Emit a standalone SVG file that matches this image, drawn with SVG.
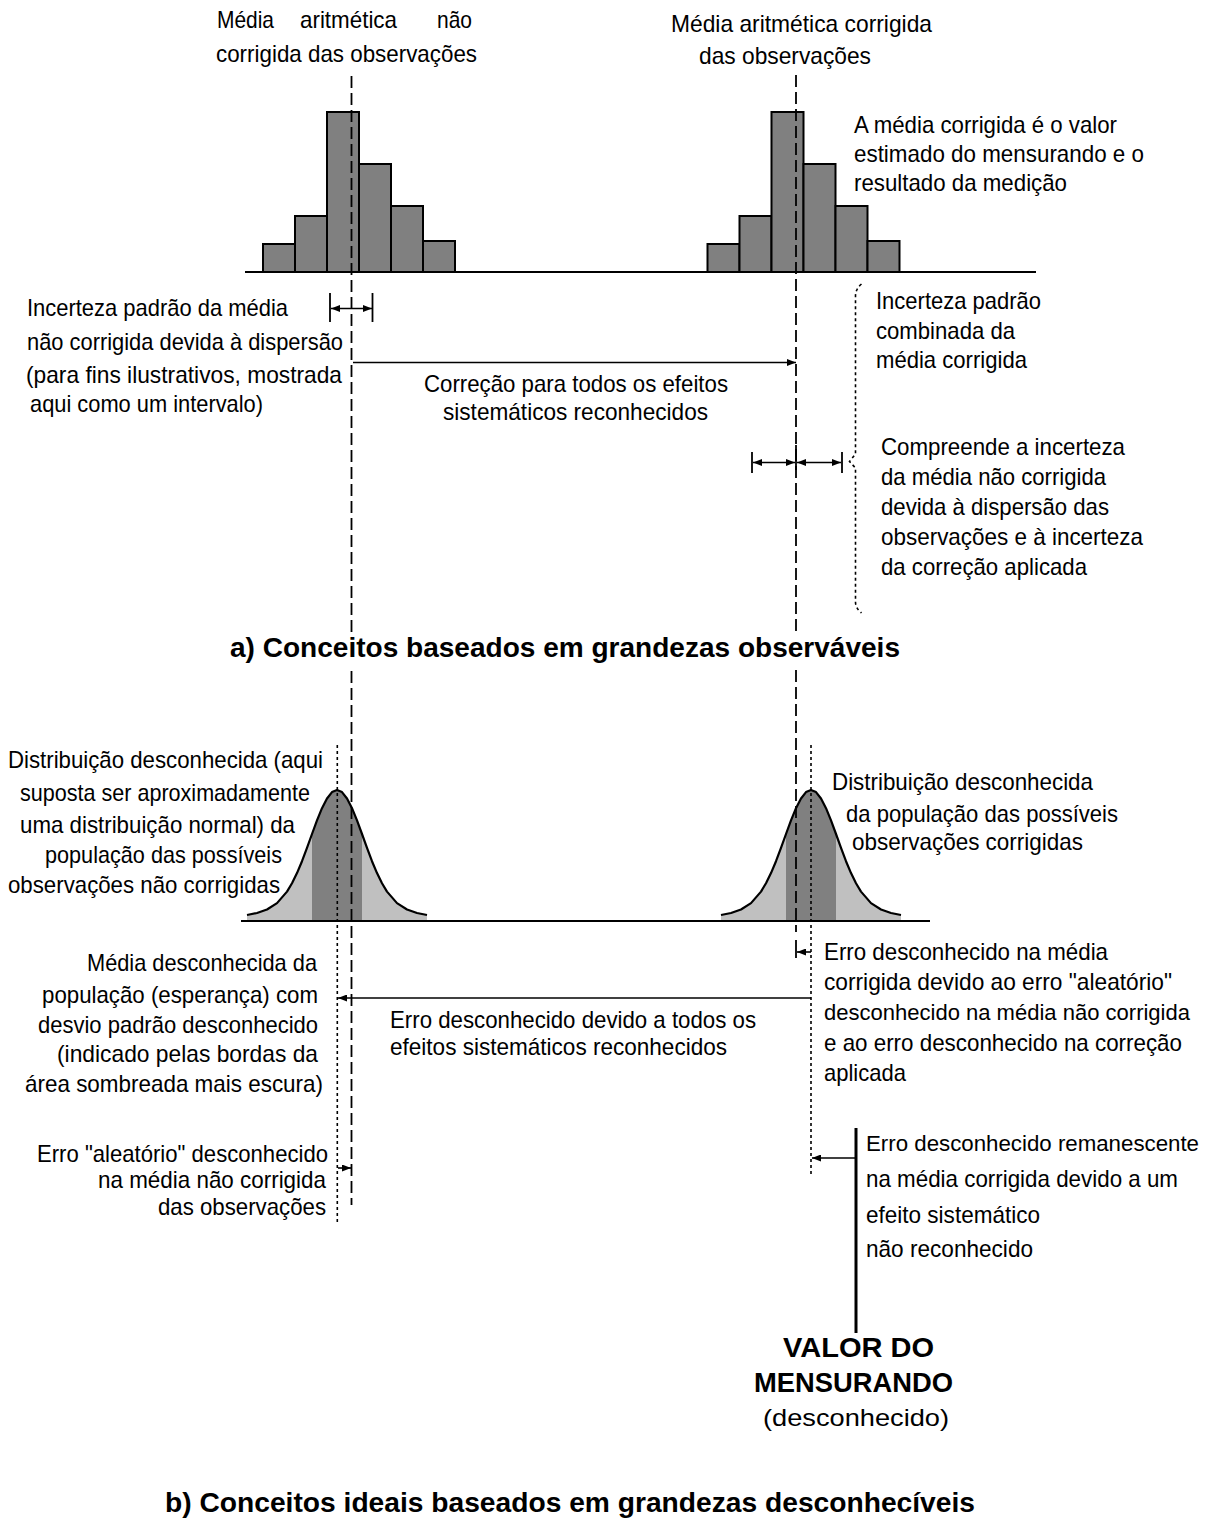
<svg xmlns="http://www.w3.org/2000/svg" width="1213" height="1519" viewBox="0 0 1213 1519">
<style>
text{font-family:"Liberation Sans",Arial,sans-serif;font-size:24px;fill:#000}
.b{font-weight:bold;font-size:28px}
.s{font-size:22px}
.bar{fill:#808080;stroke:#000;stroke-width:2}
.ax{stroke:#000;stroke-width:2;fill:none}
.dash{stroke:#000;stroke-width:1.8;stroke-dasharray:12 5;fill:none}
.dot{stroke:#000;stroke-width:1.6;stroke-dasharray:3 3;fill:none}
.ln{stroke:#000;stroke-width:1.6;fill:none}
.tk{stroke:#000;stroke-width:1.8;fill:none}
</style>
<defs>
<marker id="ah" viewBox="0 0 9 7" refX="9" refY="3.5" markerWidth="9" markerHeight="7" markerUnits="userSpaceOnUse" orient="auto-start-reverse"><path d="M0,0 L9,3.5 L0,7 z" fill="#000"/></marker>
<path id="bellfill" d="M-90,0 L-90,-6 L-80,-8 L-70,-11.5 L-60,-17.9 L-50,-29.4 L-45,-37.8 L-40,-47.9 L-35,-59.8 L-30,-73.1 L-25,-87 L-20,-100.6 L-15,-112.8 L-10,-122.5 L-5,-128.9 L0,-131 L5,-128.9 L10,-122.5 L15,-112.8 L20,-100.6 L25,-87 L30,-73.1 L35,-59.8 L40,-47.9 L45,-37.8 L50,-29.4 L60,-17.9 L70,-11.5 L80,-8 L90,-6 L90,0 Z"/>
<path id="bellline" d="M-90,-6 L-80,-8 L-70,-11.5 L-60,-17.9 L-50,-29.4 L-45,-37.8 L-40,-47.9 L-35,-59.8 L-30,-73.1 L-25,-87 L-20,-100.6 L-15,-112.8 L-10,-122.5 L-5,-128.9 L0,-131 L5,-128.9 L10,-122.5 L15,-112.8 L20,-100.6 L25,-87 L30,-73.1 L35,-59.8 L40,-47.9 L45,-37.8 L50,-29.4 L60,-17.9 L70,-11.5 L80,-8 L90,-6"/>
<clipPath id="bc"><use href="#bellfill"/></clipPath>
<g id="bell">
<use href="#bellfill" fill="#c0c0c0"/>
<rect x="-25" y="-140" width="50" height="140" fill="#808080" clip-path="url(#bc)"/>
<use href="#bellline" fill="none" stroke="#000" stroke-width="2.2" stroke-linejoin="round"/>
</g>
</defs>

<g id="hist-left">
<rect class="bar" x="263" y="244" width="32" height="28"/>
<rect class="bar" x="295" y="216" width="32" height="56"/>
<rect class="bar" x="327" y="112" width="32" height="160"/>
<rect class="bar" x="359" y="164" width="32" height="108"/>
<rect class="bar" x="391" y="206" width="32" height="66"/>
<rect class="bar" x="423" y="241" width="32" height="31"/>
</g>
<g id="hist-right">
<rect class="bar" x="707.5" y="244" width="32" height="28"/>
<rect class="bar" x="739.5" y="216" width="32" height="56"/>
<rect class="bar" x="771.5" y="112" width="32" height="160"/>
<rect class="bar" x="803.5" y="164" width="32" height="108"/>
<rect class="bar" x="835.5" y="206" width="32" height="66"/>
<rect class="bar" x="867.5" y="241" width="32" height="31"/>
</g>
<g id="axis-top"><line class="ax" x1="245" y1="272" x2="1036" y2="272"/></g>

<g id="bell-left"><use href="#bell" transform="translate(337,921)"/></g>
<g id="bell-right"><use href="#bell" transform="translate(811,921)"/></g>
<g id="axis-bottom"><line class="ax" x1="241" y1="921" x2="930" y2="921"/></g>

<g id="connectors">
<line class="dash" x1="351.5" y1="76" x2="351.5" y2="1205"/>
<line class="dash" x1="796" y1="75" x2="796" y2="932"/>
<line class="tk" x1="796" y1="940" x2="796" y2="958"/>
<line class="dot" x1="337.3" y1="745" x2="337.3" y2="1222"/>
<line class="dot" x1="811" y1="745" x2="811" y2="1177"/>

<line class="ln" x1="331" y1="308.5" x2="372" y2="308.5" marker-start="url(#ah)" marker-end="url(#ah)"/>
<line class="tk" x1="330" y1="293" x2="330" y2="322"/>
<line class="tk" x1="372.5" y1="293" x2="372.5" y2="322"/>

<line class="ln" x1="353" y1="362.5" x2="796" y2="362.5" marker-end="url(#ah)"/>

<line class="ln" x1="753" y1="462.5" x2="795" y2="462.5" marker-start="url(#ah)" marker-end="url(#ah)"/>
<line class="ln" x1="797" y1="462.5" x2="841" y2="462.5" marker-start="url(#ah)" marker-end="url(#ah)"/>
<line class="tk" x1="752" y1="452" x2="752" y2="473"/>
<line class="tk" x1="842" y1="452" x2="842" y2="473"/>
<line class="tk" x1="796" y1="445" x2="796" y2="470"/>

<path class="dot" d="M861.5,284 Q855.5,289 855.5,296 L855.5,454 L849.5,461.5 L855.5,468 L855.5,602 Q855.5,608 861.5,613"/>

<line class="ln" x1="811" y1="998" x2="338" y2="998" marker-end="url(#ah)"/>
<line class="ln" x1="338" y1="1168" x2="351" y2="1168" marker-end="url(#ah)"/>
<line class="ln" x1="811" y1="952" x2="797" y2="952" marker-end="url(#ah)"/>
<line class="ln" x1="856" y1="1158" x2="812" y2="1158" marker-end="url(#ah)"/>
<line stroke="#000" stroke-width="3" x1="856" y1="1128" x2="856" y2="1333"/>
</g>

<g id="labels">
<text x="217" y="28" textLength="57" lengthAdjust="spacingAndGlyphs">Média</text>
<text x="300" y="28" textLength="97" lengthAdjust="spacingAndGlyphs">aritmética</text>
<text x="437" y="28" textLength="35" lengthAdjust="spacingAndGlyphs">não</text>
<text x="216" y="62" textLength="261" lengthAdjust="spacingAndGlyphs">corrigida das observações</text>

<text x="671" y="32" textLength="261" lengthAdjust="spacingAndGlyphs">Média  aritmética  corrigida</text>
<text x="699" y="64" textLength="172" lengthAdjust="spacingAndGlyphs">das observações</text>

<text x="854" y="133" textLength="263" lengthAdjust="spacingAndGlyphs">A média corrigida é o valor</text>
<text x="854" y="162" textLength="290" lengthAdjust="spacingAndGlyphs">estimado do mensurando e o</text>
<text x="854" y="191" textLength="213" lengthAdjust="spacingAndGlyphs">resultado da medição</text>

<text x="876" y="309" textLength="165" lengthAdjust="spacingAndGlyphs">Incerteza padrão</text>
<text x="876" y="339" textLength="139" lengthAdjust="spacingAndGlyphs">combinada da</text>
<text x="876" y="368" textLength="151" lengthAdjust="spacingAndGlyphs">média corrigida</text>

<text x="881" y="455" textLength="244" lengthAdjust="spacingAndGlyphs">Compreende a incerteza</text>
<text x="881" y="485" textLength="225" lengthAdjust="spacingAndGlyphs">da média não corrigida</text>
<text x="881" y="515" textLength="228" lengthAdjust="spacingAndGlyphs">devida à dispersão das</text>
<text x="881" y="545" textLength="262" lengthAdjust="spacingAndGlyphs">observações e à incerteza</text>
<text x="881" y="575" textLength="206" lengthAdjust="spacingAndGlyphs">da correção aplicada</text>

<text x="27" y="316" textLength="261" lengthAdjust="spacingAndGlyphs">Incerteza padrão da média</text>
<text x="27" y="350" textLength="316" lengthAdjust="spacingAndGlyphs">não corrigida devida à dispersão</text>
<text x="26" y="383" textLength="316" lengthAdjust="spacingAndGlyphs">(para  fins ilustrativos, mostrada</text>
<text x="30" y="412" textLength="233" lengthAdjust="spacingAndGlyphs">aqui  como um intervalo)</text>

<text x="424" y="392" textLength="304" lengthAdjust="spacingAndGlyphs">Correção para todos os efeitos</text>
<text x="443" y="420" textLength="265" lengthAdjust="spacingAndGlyphs">sistemáticos reconhecidos</text>

<rect x="226" y="632" width="678" height="34" fill="#fff"/>
<text class="b" x="230" y="657" textLength="670" lengthAdjust="spacingAndGlyphs">a)  Conceitos baseados em grandezas observáveis</text>

<text x="8" y="768" textLength="315" lengthAdjust="spacingAndGlyphs">Distribuição desconhecida (aqui</text>
<text x="20" y="801" textLength="290" lengthAdjust="spacingAndGlyphs">suposta ser aproximadamente</text>
<text x="20" y="833" textLength="275" lengthAdjust="spacingAndGlyphs">uma distribuição normal) da</text>
<text x="45" y="863" textLength="237" lengthAdjust="spacingAndGlyphs">população das possíveis</text>
<text x="8" y="893" textLength="272" lengthAdjust="spacingAndGlyphs">observações não corrigidas</text>

<text x="832" y="790" textLength="261" lengthAdjust="spacingAndGlyphs">Distribuição desconhecida</text>
<text x="846" y="822" textLength="272" lengthAdjust="spacingAndGlyphs">da população das possíveis</text>
<text x="852" y="850" textLength="231" lengthAdjust="spacingAndGlyphs">observações corrigidas</text>

<text x="87" y="971" textLength="230" lengthAdjust="spacingAndGlyphs">Média desconhecida da</text>
<text x="42" y="1003" textLength="276" lengthAdjust="spacingAndGlyphs">população (esperança) com</text>
<text x="38" y="1033" textLength="280" lengthAdjust="spacingAndGlyphs">desvio padrão desconhecido</text>
<text x="57" y="1062" textLength="261" lengthAdjust="spacingAndGlyphs">(indicado pelas bordas da</text>
<text x="25" y="1092" textLength="298" lengthAdjust="spacingAndGlyphs">área sombreada mais escura)</text>

<text x="37" y="1162" textLength="291" lengthAdjust="spacingAndGlyphs">Erro "aleatório" desconhecido</text>
<text x="98" y="1188" textLength="228" lengthAdjust="spacingAndGlyphs">na média não  corrigida</text>
<text x="158" y="1215" textLength="168" lengthAdjust="spacingAndGlyphs">das observações</text>

<text x="390" y="1028" textLength="366" lengthAdjust="spacingAndGlyphs">Erro desconhecido devido a todos os</text>
<text x="390" y="1055" textLength="337" lengthAdjust="spacingAndGlyphs">efeitos sistemáticos reconhecidos</text>

<text x="824" y="960" textLength="284" lengthAdjust="spacingAndGlyphs">Erro desconhecido na média</text>
<text x="824" y="990" textLength="348" lengthAdjust="spacingAndGlyphs">corrigida devido ao erro "aleatório"</text>
<text class="s" x="824" y="1020" textLength="366" lengthAdjust="spacingAndGlyphs">desconhecido na média não corrigida</text>
<text x="824" y="1051" textLength="358" lengthAdjust="spacingAndGlyphs">e ao erro desconhecido na correção</text>
<text x="824" y="1081" textLength="82" lengthAdjust="spacingAndGlyphs">aplicada</text>

<text class="s" x="866" y="1151" textLength="333" lengthAdjust="spacingAndGlyphs">Erro desconhecido remanescente</text>
<text x="866" y="1187" textLength="312" lengthAdjust="spacingAndGlyphs">na média corrigida devido a um</text>
<text x="866" y="1223" textLength="174" lengthAdjust="spacingAndGlyphs">efeito sistemático</text>
<text x="866" y="1257" textLength="167" lengthAdjust="spacingAndGlyphs">não reconhecido</text>

<text class="b" x="783" y="1357" textLength="151" lengthAdjust="spacingAndGlyphs">VALOR DO</text>
<text class="b" x="754" y="1392" textLength="199" lengthAdjust="spacingAndGlyphs">MENSURANDO</text>
<text x="763" y="1426" textLength="186" lengthAdjust="spacingAndGlyphs">(desconhecido)</text>

<text class="b" x="165" y="1512" textLength="810" lengthAdjust="spacingAndGlyphs">b)  Conceitos ideais baseados em grandezas desconhecíveis</text>
</g>
</svg>
